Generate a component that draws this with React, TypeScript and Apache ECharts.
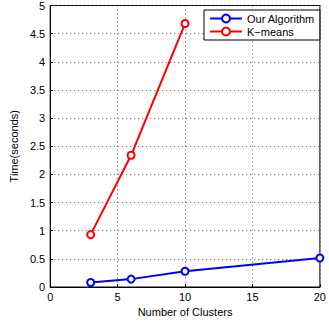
import React, { useEffect, useRef } from "react";
import * as echarts from "echarts";

const clusters = [3, 6, 10, 20];
const ourAlgorithm = [0.08, 0.14, 0.28, 0.515];
const kmeansClusters = [3, 6, 10];
const kmeans = [0.93, 2.34, 4.68];
const seriesNames = ["Our Algorithm", "K\u2212means"];

const FONT = "Liberation Sans, Arial, Helvetica, sans-serif";

export default function App() {
  const ref = useRef<HTMLDivElement>(null);
  useEffect(() => {
    if (!ref.current) return;
    const chart = echarts.init(ref.current, undefined, { renderer: "svg" });
    const gridLine = { show: true, lineStyle: { color: "#555", type: [1, 3] as any, width: 1 } };
    const txt = { color: "#000", fontFamily: FONT, fontSize: 11 };
    chart.setOption({
      animation: false,
      backgroundColor: "#fff",
      grid: {
        left: 41,
        right: 6,
        top: 5,
        bottom: 36,
        show: true,
        borderColor: "#000",
        borderWidth: 1,
      },
      legend: {
        orient: "vertical",
        left: 204,
        top: 10,
        padding: [3, 5, 3, 5],
        itemGap: 2,
        itemWidth: 32,
        itemHeight: 10,
        borderColor: "#000",
        borderWidth: 1,
        backgroundColor: "#fff",
        textStyle: { ...txt, padding: [0, 4, 0, 0] },
        data: seriesNames,
      },
      xAxis: {
        type: "value",
        min: 0,
        max: 20,
        interval: 5,
        name: "Number of Clusters",
        nameLocation: "middle",
        nameGap: 17,
        nameTextStyle: txt,
        axisLine: { show: true, lineStyle: { color: "#000", width: 1 } },
        axisTick: { show: true, inside: true, length: 3, lineStyle: { color: "#000" } },
        axisLabel: { ...txt, margin: 4 },
        splitLine: gridLine,
      },
      yAxis: {
        type: "value",
        min: 0,
        max: 5,
        interval: 0.5,
        name: "Time(seconds)",
        nameLocation: "middle",
        nameGap: 22,
        nameTextStyle: txt,
        axisLine: { show: true, lineStyle: { color: "#000", width: 1 } },
        axisTick: { show: true, inside: true, length: 3, lineStyle: { color: "#000" } },
        axisLabel: { ...txt, margin: 5 },
        splitLine: gridLine,
      },
      series: [
        {
          name: seriesNames[0],
          type: "line",
          data: clusters.map((c, i) => [c, ourAlgorithm[i]]),
          symbol: "emptyCircle",
          symbolSize: 7,
          lineStyle: { color: "#0000ff", width: 2 },
          itemStyle: { color: "#0000ff", borderColor: "#0000ff", borderWidth: 2 },
          clip: false,
        },
        {
          name: seriesNames[1],
          type: "line",
          data: kmeansClusters.map((c, i) => [c, kmeans[i]]),
          symbol: "emptyCircle",
          symbolSize: 7,
          lineStyle: { color: "#ff0000", width: 2 },
          itemStyle: { color: "#ff0000", borderColor: "#ff0000", borderWidth: 2 },
          clip: false,
        },
      ],
    });
    return () => chart.dispose();
  }, []);
  return (
    <div
      ref={ref}
      style={{ position: "fixed", left: 0, top: 0, width: 329, height: 323 }}
    />
  );
}
